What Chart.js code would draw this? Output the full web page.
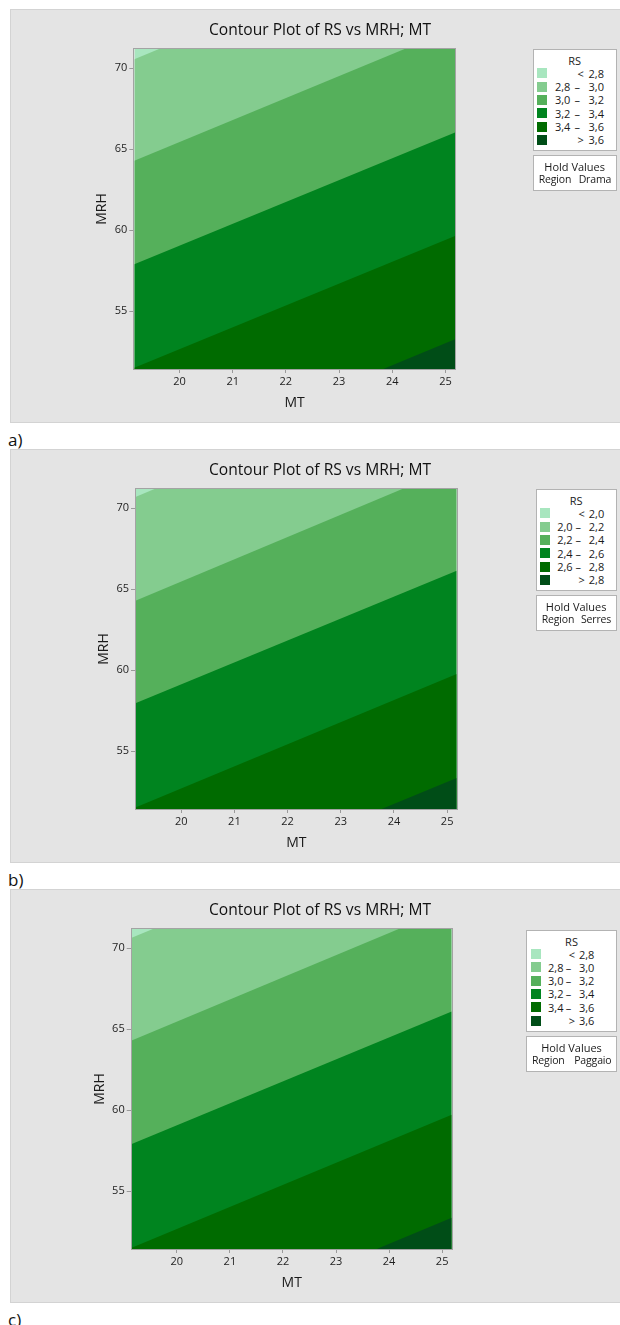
<!DOCTYPE html>
<html>
<head>
<meta charset="utf-8">
<title>Contour Plot of RS vs MRH; MT</title>
<script src="https://cdn.jsdelivr.net/npm/chart.js@4.4.1/dist/chart.umd.min.js"></script>
<style>
  html, body { margin: 0; padding: 0; background: #ffffff; }
  body { position: relative; width: 620px; height: 1325px; overflow: hidden;
         font-family: "Open Sans", "Noto Sans", sans-serif; color: #1a1a1a; }
  .panel { position: absolute; left: 10px; width: 612px; height: 414px; background: #e4e4e4;
           box-shadow: inset 0 0 0 1px #d3d3d3; }
  .panel canvas { position: absolute; left: 0; top: 0; }
  .tag { position: absolute; left: 8px; font-size: 17px; line-height: 20px; color: #111; }
  .box { position: absolute; background: #fff; border: 1px solid #b3b3b3; box-sizing: border-box;
         font-size: 11px; line-height: 13px; color: #1a1a1a; z-index: 2; }
  .box span { position: absolute; white-space: nowrap; }
  .box .sw { width: 10px; height: 10px; }
  .box .hold { font-size: 10.5px; letter-spacing: -0.15px; }
</style>
</head>
<body>
<script>
// Axis ranges and tick labels shared by the three plots
const mtRange = [19.15, 25.18];
const mrhRange = [51.43, 71.19];
const mtTicks = [20, 21, 22, 23, 24, 25];
const mrhTicks = [55, 60, 65, 70];

// Fill colours, lightest (lowest RS) to darkest (highest RS)
const bandColors = ['#a8e6bf', '#84cc8f', '#55b05b', '#00841f', '#006b00', '#004d17'];

// Region Drama: contour levels and the MRH at which each contour meets MT = 19.15 and MT = 25.18
const levelsDrama = [2.8, 3.0, 3.2, 3.4, 3.6];
const mrhLeftDrama = [70.56, 64.29, 57.90, 51.50, 45.05];
const mrhRightDrama = [78.75, 72.48, 66.04, 59.64, 53.27];

// Region Serres
const levelsSerres = [2.0, 2.2, 2.4, 2.6, 2.8];
const mrhLeftSerres = [70.72, 64.30, 57.98, 51.54, 45.15];
const mrhRightSerres = [78.90, 72.60, 66.15, 59.77, 53.35];

// Region Paggaio
const levelsPaggaio = [2.8, 3.0, 3.2, 3.4, 3.6];
const mrhLeftPaggaio = [70.65, 64.30, 57.92, 51.50, 45.12];
const mrhRightPaggaio = [78.85, 72.56, 66.09, 59.72, 53.36];

const FONT = '"Open Sans", "Noto Sans", sans-serif';
const TITLE = 'Contour Plot of RS vs MRH; MT';

const panels = [
  { tag: 'a)', region: 'Drama', levels: levelsDrama, mrhLeft: mrhLeftDrama, mrhRight: mrhRightDrama,
    top: 9, plotLeft: 124.3, plotRight: 445, legendLeft: 522.7, legendTop: 40.3, legendWidth: 84, tagTop: 430,
    cols: { sw: 4, lo: 22.3, dash: 44.5, sym: 48, hi: 71.3 } },
  { tag: 'b)', region: 'Serres', levels: levelsSerres, mrhLeft: mrhLeftSerres, mrhRight: mrhRightSerres,
    top: 449, plotLeft: 126, plotRight: 446.7, legendLeft: 525.7, legendTop: 40.3, legendWidth: 81, tagTop: 870,
    cols: { sw: 4.3, lo: 21.5, dash: 42.5, sym: 46, hi: 68.5 } },
  { tag: 'c)', region: 'Paggaio', levels: levelsPaggaio, mrhLeft: mrhLeftPaggaio, mrhRight: mrhRightPaggaio,
    top: 889, plotLeft: 121.7, plotRight: 441.7, legendLeft: 516, legendTop: 41, legendWidth: 91, tagTop: 1310,
    cols: { sw: 4.7, lo: 22, dash: 42.5, sym: 46, hi: 68.3 } }
];

function fmt(v) { return v.toFixed(1).replace('.', ','); }

// Grey frame round the plotting area
const framePlugin = {
  id: 'frame',
  afterDatasetsDraw(chart) {
    const { ctx, chartArea: a } = chart;
    ctx.save();
    ctx.strokeStyle = '#a3a3a3';
    ctx.lineWidth = 1;
    ctx.strokeRect(Math.round(a.left) - 0.5, Math.round(a.top) - 0.5,
                   Math.round(a.right - a.left) + 1, Math.round(a.bottom - a.top) + 1);
    ctx.restore();
  }
};

function span(parent, text, css) {
  const s = document.createElement('span');
  s.textContent = text;
  Object.assign(s.style, css);
  parent.appendChild(s);
  return s;
}

function buildLegend(p, host) {
  const w = p.legendWidth;
  const c = p.cols;
  const box = document.createElement('div');
  box.className = 'box';
  Object.assign(box.style, { left: p.legendLeft + 'px', top: p.legendTop + 'px', width: w + 'px', height: '102px' });
  host.appendChild(box);
  span(box, 'RS', { left: (w / 2 - 1) + 'px', top: (11.4 - 7.5) + 'px', transform: 'translateX(-50%)' });
  const lv = p.levels;
  for (let i = 0; i <= lv.length; i++) {
    const cy = 24 + i * 13.33 - 1;
    const sw = span(box, '', { left: (c.sw - 1) + 'px', top: (cy - 5) + 'px', background: bandColors[i] });
    sw.className = 'sw';
    const ty = (cy - 6.5) + 'px';
    const rightPos = (w - c.hi - 1) + 'px';
    if (i === 0 || i === lv.length) {
      span(box, i === 0 ? '<' : '>', { left: (c.sym - 1) + 'px', top: ty, transform: 'translateX(-50%)' });
      span(box, fmt(i === 0 ? lv[0] : lv[lv.length - 1]), { right: rightPos, top: ty });
    } else {
      span(box, fmt(lv[i - 1]), { left: (c.lo - 1) + 'px', top: ty });
      span(box, '–', { left: (c.dash - 1) + 'px', top: ty, transform: 'translateX(-50%)' });
      span(box, fmt(lv[i]), { right: rightPos, top: ty });
    }
  }
  const hold = document.createElement('div');
  hold.className = 'box';
  Object.assign(hold.style, { left: p.legendLeft + 'px', top: (p.legendTop + 106) + 'px', width: w + 'px', height: '36px' });
  host.appendChild(hold);
  span(hold, 'Hold Values', { left: (w / 2 - 1) + 'px', top: (11.7 - 7.5) + 'px', transform: 'translateX(-50%)' });
  span(hold, 'Region', { left: '5px', top: (24.3 - 7.5) + 'px' }).className = 'hold';
  span(hold, p.region, { right: '4.5px', top: (24.3 - 7.5) + 'px' }).className = 'hold';
}

panels.forEach((p) => {
  const panel = document.createElement('div');
  panel.className = 'panel';
  panel.style.top = p.top + 'px';
  document.body.appendChild(panel);

  const canvas = document.createElement('canvas');
  canvas.width = 620; canvas.height = 414;
  canvas.style.width = '620px'; canvas.style.height = '414px';
  panel.appendChild(canvas);

  const tag = document.createElement('div');
  tag.className = 'tag';
  tag.style.top = p.tagTop + 'px';
  tag.textContent = p.tag;
  document.body.appendChild(tag);

  const labels = ['< ' + fmt(p.levels[0])];
  for (let i = 1; i < p.levels.length; i++) labels.push(fmt(p.levels[i - 1]) + ' – ' + fmt(p.levels[i]));
  labels.push('> ' + fmt(p.levels[p.levels.length - 1]));

  const common = { showLine: true, fill: 'start', borderColor: 'rgba(0,0,0,0)', borderWidth: 0,
                   pointRadius: 0, pointHoverRadius: 0, tension: 0 };
  // Each band is filled from its upper boundary down to the bottom of the MRH axis;
  // darker bands are drawn over lighter ones.
  const datasets = [Object.assign({
    label: labels[0],
    data: [{ x: mtRange[0], y: mrhRange[1] }, { x: mtRange[1], y: mrhRange[1] }],
    backgroundColor: bandColors[0], order: 10
  }, common)];
  p.levels.forEach((lv, i) => {
    datasets.push(Object.assign({
      label: labels[i + 1],
      data: [{ x: mtRange[0], y: p.mrhLeft[i] }, { x: mtRange[1], y: p.mrhRight[i] }],
      backgroundColor: bandColors[i + 1], order: 9 - i
    }, common));
  });

  new Chart(canvas.getContext('2d'), {
    type: 'scatter',
    data: { datasets },
    plugins: [framePlugin],
    options: {
      responsive: false, animation: false, events: [],
      layout: { padding: 0 },
      plugins: {
        legend: { display: false },
        tooltip: { enabled: false },
        title: { display: true, text: TITLE, color: '#111',
                 font: { family: FONT, size: 15.6, weight: 'normal', lineHeight: 1.2 },
                 padding: { top: 12.3, bottom: 9 } }
      },
      scales: {
        x: {
          type: 'linear', min: mtRange[0], max: mtRange[1],
          afterBuildTicks: (s) => { s.ticks = mtTicks.map((v) => ({ value: v })); },
          afterFit: (s) => { s.height = 54; },
          grid: { drawOnChartArea: false, drawTicks: true, tickLength: 4, color: '#9a9a9a' },
          border: { display: false },
          ticks: { font: { family: FONT, size: 11 }, color: '#1e1e1e', padding: 2, maxRotation: 0, autoSkip: false },
          title: { display: true, text: 'MT', color: '#1a1a1a', font: { family: FONT, size: 14, lineHeight: 1.2 },
                   padding: { top: 0, bottom: 11.9 } }
        },
        y: {
          type: 'linear', min: mrhRange[0], max: mrhRange[1],
          afterBuildTicks: (s) => { s.ticks = mrhTicks.map((v) => ({ value: v })); },
          afterFit: (s) => { s.width = p.plotLeft; },
          grid: { drawOnChartArea: false, drawTicks: true, tickLength: 5, color: '#9a9a9a' },
          border: { display: false },
          ticks: { font: { family: FONT, size: 11 }, color: '#1e1e1e', padding: 2, autoSkip: false },
          title: { display: true, text: 'MRH', color: '#1a1a1a', font: { family: FONT, size: 14, lineHeight: 1.2 },
                   padding: { top: p.plotLeft - 40.5, bottom: 0 } }
        },
        yPad: {
          type: 'linear', position: 'right', display: true,
          grid: { display: false }, border: { display: false }, ticks: { display: false },
          afterFit: (s) => { s.width = 620 - p.plotRight; }
        }
      }
    }
  });

  buildLegend(p, panel);
});
</script>
</body>
</html>
